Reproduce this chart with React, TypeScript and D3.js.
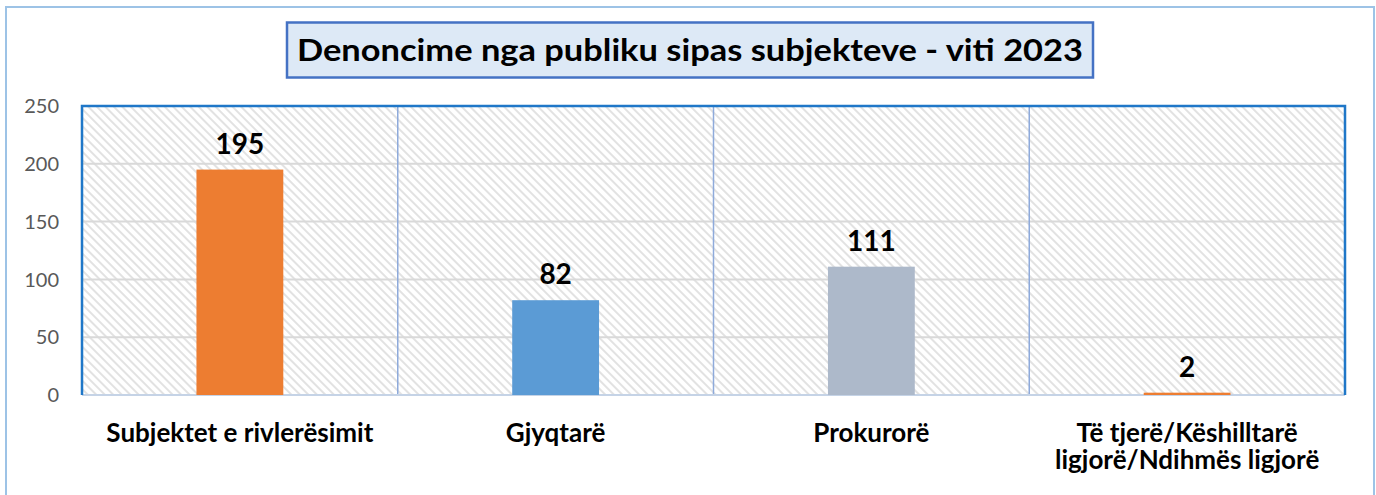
import React from "react";
import * as d3 from "d3";

const categories = [
  ["Subjektet e rivlerësimit"],
  ["Gjyqtarë"],
  ["Prokurorë"],
  ["Të tjerë/Këshilltarë", "ligjorë/Ndihmës ligjorë"],
];
const values = [195, 82, 111, 2];
const barColors = ["#ed7d31", "#5b9bd5", "#adb9ca", "#ed7d31"];
const yTicks = [0, 50, 100, 150, 200, 250];
const title = "Denoncime nga publiku sipas subjekteve - viti 2023";

const W = 1376;
const H = 495;
const plot = { left: 82, right: 1345, top: 106, bottom: 395 };
const font = "Lato, 'Open Sans', sans-serif";

const App = () => {
  const x = d3
    .scaleBand<number>()
    .domain(values.map((_, i) => i))
    .range([plot.left, plot.right])
    .paddingInner(0)
    .paddingOuter(0);

  const y = d3.scaleLinear().domain([0, 250]).range([plot.bottom, plot.top]);

  const barW = x.bandwidth() * 0.275;

  return (
    <svg
      width={W}
      height={H}
      style={{ position: "absolute", left: 0, top: 0, background: "#fff" }}
    >
      <defs>
        <pattern
          id="hatch"
          width={6}
          height={6}
          patternUnits="userSpaceOnUse"
          patternTransform="rotate(45)"
        >
          <rect width={6} height={6} fill="#ffffff" />
          <rect width={6} height={2} fill="#e2e2e2" />
        </pattern>
      </defs>

      {/* outer chart border */}
      <rect x={6} y={7} width={1368} height={495} fill="none" stroke="#9dc3e6" strokeWidth={2} />

      {/* title */}
      <rect x={287} y={22.5} width={806} height={55} fill="#dde9f6" stroke="#4472c4" strokeWidth={2.5} />
      <text
        x={690}
        y={61}
        textAnchor="middle"
        fontFamily={font}
        fontWeight="bold"
        fontSize={31}
        fill="#000"
        textLength={786}
        lengthAdjust="spacingAndGlyphs"
      >
        {title}
      </text>

      {/* plot background */}
      <rect
        x={plot.left}
        y={plot.top}
        width={plot.right - plot.left}
        height={plot.bottom - plot.top}
        fill="url(#hatch)"
      />

      {/* gridlines */}
      {yTicks.slice(1).map((t) => (
        <line key={t} x1={plot.left} x2={plot.right} y1={y(t)} y2={y(t)} stroke="#d9d9d9" strokeWidth={2} />
      ))}

      {/* category separators */}
      {values.slice(1).map((_, i) => (
        <line
          key={i}
          x1={x(i + 1)!}
          x2={x(i + 1)!}
          y1={plot.top}
          y2={plot.bottom}
          stroke="#8eaadb"
          strokeWidth={1.5}
        />
      ))}

      {/* bottom axis line */}
      <line x1={plot.left} x2={plot.right} y1={plot.bottom} y2={plot.bottom} stroke="#c5d3e6" strokeWidth={2} />

      {/* plot border top/left/right */}
      <path
        d={`M${plot.left},${plot.bottom} V${plot.top} H${plot.right} V${plot.bottom}`}
        fill="none"
        stroke="#1f77c8"
        strokeWidth={2.5}
      />

      {/* bars */}
      {values.map((v, i) => (
        <rect
          key={i}
          x={x(i)! + (x.bandwidth() - barW) / 2}
          y={y(v)}
          width={barW}
          height={y(0) - y(v)}
          fill={barColors[i]}
        />
      ))}

      {/* value labels */}
      {values.map((v, i) => (
        <text
          key={i}
          x={x(i)! + x.bandwidth() / 2}
          y={y(v) - 16}
          textAnchor="middle"
          fontFamily={font}
          fontWeight="bold"
          fontSize={28}
          fill="#000"
        >
          {v}
        </text>
      ))}

      {/* y tick labels */}
      {yTicks.map((t) => (
        <text
          key={t}
          x={59}
          y={y(t)}
          dy="0.36em"
          textAnchor="end"
          fontFamily={font}
          fontSize={20}
          fill="#595959"
        >
          {t}
        </text>
      ))}

      {/* category labels */}
      {categories.map((lines, i) =>
        lines.map((l, j) => (
          <text
            key={`${i}-${j}`}
            x={x(i)! + x.bandwidth() / 2}
            y={442 + j * 27}
            textAnchor="middle"
            fontFamily={font}
            fontWeight="bold"
            fontSize={26}
            fill="#000"
          >
            {l}
          </text>
        ))
      )}
    </svg>
  );
};

export default App;
